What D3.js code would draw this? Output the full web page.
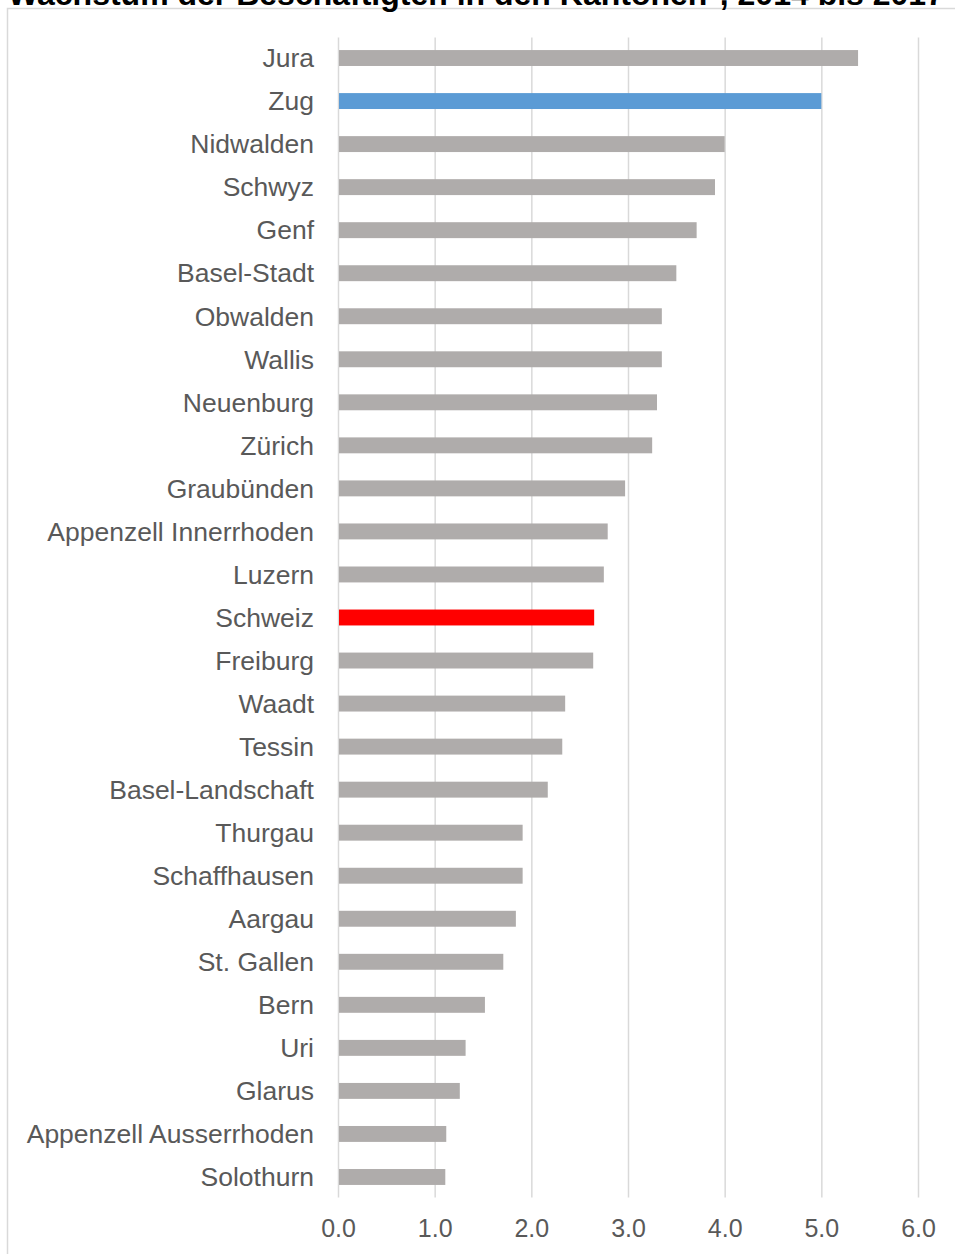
<!DOCTYPE html>
<html>
<head>
<meta charset="utf-8">
<script src="https://cdn.jsdelivr.net/npm/d3@7"></script>
<style>
  body { margin: 0; background: #fff; }
  svg { display: block; font-family: 'Liberation Sans', Arial, sans-serif; }
</style>
</head>
<body>
<svg id="chart"></svg>
<script>
// cantons, top to bottom
const cantons = ['Jura', 'Zug', 'Nidwalden', 'Schwyz', 'Genf', 'Basel-Stadt', 'Obwalden',
  'Wallis', 'Neuenburg', 'Zürich', 'Graubünden', 'Appenzell Innerrhoden', 'Luzern',
  'Schweiz', 'Freiburg', 'Waadt', 'Tessin', 'Basel-Landschaft', 'Thurgau', 'Schaffhausen',
  'Aargau', 'St. Gallen', 'Bern', 'Uri', 'Glarus', 'Appenzell Ausserrhoden', 'Solothurn']

// growth in %
const growth = [5.38, 5.0, 4.0, 3.90, 3.71, 3.50, 3.35,
  3.35, 3.30, 3.25, 2.97, 2.79, 2.75,
  2.65, 2.64, 2.35, 2.32, 2.17, 1.91, 1.91,
  1.84, 1.71, 1.52, 1.32, 1.26, 1.12, 1.11]

const xTickValues = [0, 1, 2, 3, 4, 5, 6]

const highlight = { 'Zug': '#5b9bd5', 'Schweiz': '#ff0000' }

const title = 'Wachstum der Beschäftigten in den Kantonen*, 2014 bis 2017'

const width = 955
const height = 1254
const margin = { top: 35.5, right: 37, bottom: 56.5, left: 338 }
const w = width - margin.left - margin.right
const h = height - margin.top - margin.bottom

const data = cantons.map((name, i) => ({ name, value: growth[i] }))

const svg = d3.select('#chart')
  .attr('width', width)
  .attr('height', height)

// frame
svg.append('rect')
  .attr('x', 7.5)
  .attr('y', 8.5)
  .attr('width', 960)
  .attr('height', 1260)
  .attr('fill', 'none')
  .attr('stroke', '#d9d9d9')
  .attr('stroke-width', 1.5)

// title, mostly cut off at the top (as in the source image)
svg.append('text')
  .attr('x', 8)
  .attr('y', 5)
  .attr('font-size', 32)
  .attr('font-weight', 'bold')
  .attr('fill', '#000')
  .text(title)

const chart = svg.append('g')
  .attr('transform', `translate(${margin.left}, ${margin.top})`)

const x = d3.scaleLinear()
  .domain([0, 6])
  .range([0, 580])

const y = d3.scaleBand()
  .domain(cantons)
  .range([0, h])
  .paddingInner(0.63)
  .paddingOuter(0.315)

// grid
const xAxis = d3.axisBottom(x)
  .tickValues(xTickValues)
  .tickSize(-h + 2)
  .tickSizeOuter(0)
  .tickPadding(22)
  .tickFormat(d3.format('.1f'))

const gx = chart.append('g')
  .attr('class', 'x axis')
  .attr('transform', `translate(0, ${h})`)
  .call(xAxis)

gx.select('.domain').remove()
gx.selectAll('line')
  .attr('stroke', '#d9d9d9')
  .attr('stroke-width', 1.5)
gx.selectAll('text')
  .attr('font-size', 25)
  .attr('fill', '#595959')
  .attr('font-family', "'Liberation Sans', Arial, sans-serif")

// bars
chart.selectAll('.bar')
  .data(data)
  .enter()
  .append('rect')
  .attr('class', 'bar')
  .attr('x', x(0) + 1)
  .attr('y', d => y(d.name) + 1)
  .attr('width', d => x(d.value) - x(0) - 1)
  .attr('height', y.bandwidth())
  .attr('fill', d => highlight[d.name] || '#afacab')

// category labels
chart.selectAll('.label')
  .data(data)
  .enter()
  .append('text')
  .attr('class', 'label')
  .attr('x', -24)
  .attr('y', d => y(d.name) + y.bandwidth() / 2 + 1)
  .attr('dy', '0.35em')
  .attr('text-anchor', 'end')
  .attr('font-size', 26.5)
  .attr('fill', '#595959')
  .text(d => d.name)
</script>
</body>
</html>
